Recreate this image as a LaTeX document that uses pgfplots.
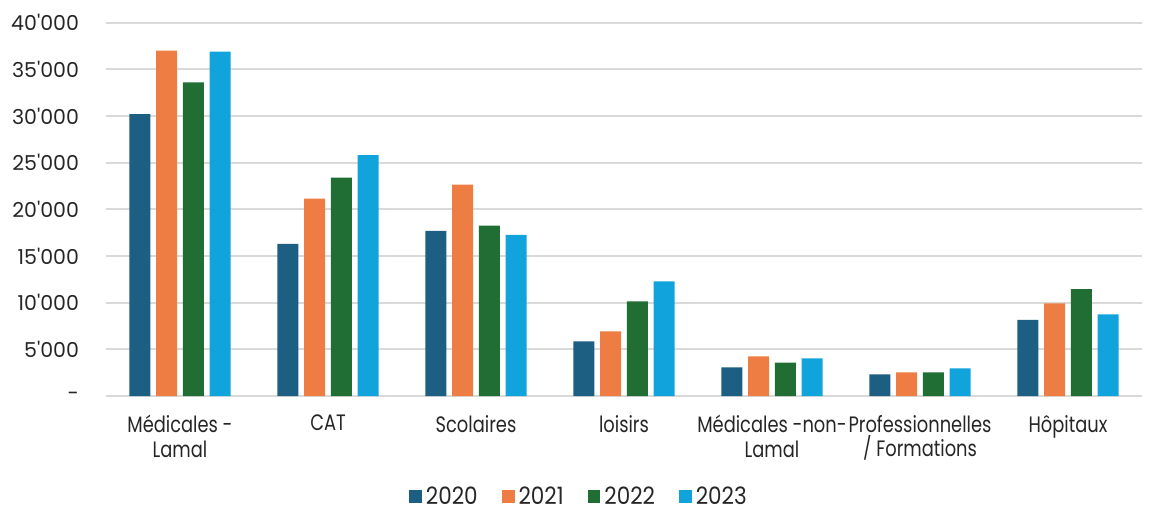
\documentclass[border=0pt]{standalone}
\usepackage{fontspec}
\setmainfont{Poppins}[Ligatures=TeXOff]
\newfontfamily\pfn{Poppins}[FakeStretch=0.8,Ligatures=TeXOff]
\newfontfamily\pfl{Poppins}[FakeStretch=0.9,Ligatures=TeXOff]
\usepackage{pgfplots}
\pgfplotsset{compat=1.18}
\definecolor{c20}{HTML}{1C5F82}
\definecolor{c21}{HTML}{ED7D42}
\definecolor{c22}{HTML}{216E34}
\definecolor{c23}{HTML}{10A3DC}
\definecolor{gridc}{HTML}{D9D9D9}
\definecolor{txt}{HTML}{262626}
\begin{document}
\begin{tikzpicture}
\useasboundingbox (-53bp,-57bp) rectangle (522.5bp,198bp);
\begin{axis}[
  scale only axis,
  width=518bp, height=186.65bp,
  ybar=2.85bp, bar width=10.5bp,
  xmin=-0.5, xmax=6.5,
  ymin=0, ymax=40000,
  scaled y ticks=false,
  xtick={0,1,2,3,4,5,6},
  xticklabels={{Médicales -\\Lamal},{CAT},{Scolaires},{loisirs},{Médicales -non-\\Lamal},{Professionnelles\\/ Formations},{Hôpitaux}},
  ytick={0,5000,10000,15000,20000,25000,30000,35000,40000},
  yticklabels={{-},{5'000},{10'000},{15'000},{20'000},{25'000},{30'000},{35'000},{40'000}},
  major tick length=0,
  axis line style={draw=none},
  ymajorgrids,
  grid style={gridc, line width=1bp},
  yticklabel style={font=\fontsize{10.3}{12}\selectfont, text=txt, anchor=east, xshift=-10bp},
  xticklabel style={font=\pfn\fontsize{11.2}{12.5}\selectfont, text=txt, align=center, anchor=north, yshift=-6bp},
  legend style={at={(0.4575,-0.27)}, anchor=center, legend columns=4, draw=none,
    font=\pfl\fontsize{12}{13}\selectfont, text=txt,
    /tikz/every even column/.append style={column sep=10bp}},
  legend image code/.code={\fill[#1] (0bp,-3.2bp) rectangle (6.4bp,3.2bp);},
  every axis plot/.append style={draw=none},
]
\addplot[fill=c20] coordinates {(0,30200) (1,16300) (2,17700) (3,5850) (4,3070) (5,2320) (6,8170)};
\addplot[fill=c21] coordinates {(0,37000) (1,21150) (2,22650) (3,6920) (4,4250) (5,2540) (6,9920)};
\addplot[fill=c22] coordinates {(0,33600) (1,23400) (2,18250) (3,10150) (4,3570) (5,2540) (6,11460)};
\addplot[fill=c23] coordinates {(0,36900) (1,25800) (2,17270) (3,12280) (4,4030) (5,2960) (6,8740)};
\legend{2020,2021,2022,2023}
\end{axis}
\end{tikzpicture}
\end{document}
